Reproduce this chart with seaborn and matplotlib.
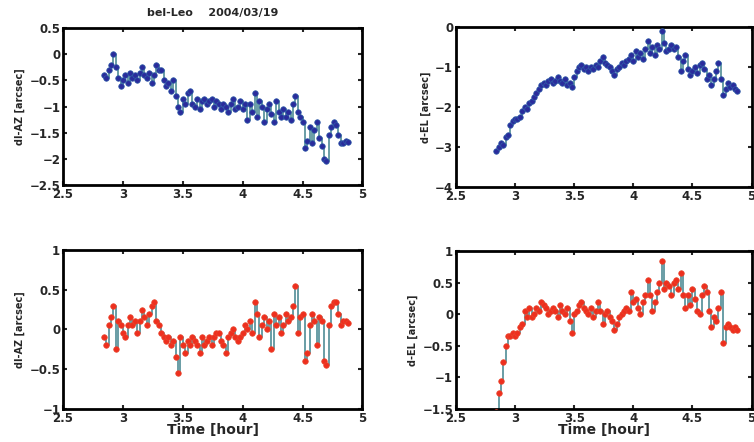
import matplotlib
matplotlib.use("Agg")
import matplotlib.pyplot as plt
import seaborn as sns
import pandas as pd

time_h = [2.84, 2.86, 2.88, 2.90, 2.92, 2.94, 2.96, 2.98, 3.00, 3.02,
          3.04, 3.06, 3.08, 3.10, 3.12, 3.14, 3.16, 3.18, 3.20, 3.22,
          3.24, 3.26, 3.28, 3.30, 3.32, 3.34, 3.36, 3.38, 3.40, 3.42,
          3.44, 3.46, 3.48, 3.50, 3.52, 3.54, 3.56, 3.58, 3.60, 3.62,
          3.64, 3.66, 3.68, 3.70, 3.72, 3.74, 3.76, 3.78, 3.80, 3.82,
          3.84, 3.86, 3.88, 3.90, 3.92, 3.94, 3.96, 3.98, 4.00, 4.02,
          4.04, 4.06, 4.08, 4.10, 4.12, 4.14, 4.16, 4.18, 4.20, 4.22,
          4.24, 4.26, 4.28, 4.30, 4.32, 4.34, 4.36, 4.38, 4.40, 4.42,
          4.44, 4.46, 4.48, 4.50, 4.52, 4.54, 4.56, 4.58, 4.60, 4.62,
          4.64, 4.66, 4.68, 4.70, 4.72, 4.74, 4.76, 4.78, 4.80, 4.82,
          4.84, 4.86, 4.88]

daz_before = [-0.40, -0.45, -0.30, -0.20, 0.00, -0.25, -0.45, -0.60, -0.50, -0.40,
              -0.55, -0.35, -0.45, -0.40, -0.50, -0.35, -0.25, -0.40, -0.45, -0.35,
              -0.55, -0.40, -0.20, -0.30, -0.30, -0.50, -0.60, -0.55, -0.70, -0.50,
              -0.80, -1.00, -1.10, -0.85, -0.95, -0.75, -0.70, -0.95, -1.00, -0.85,
              -1.05, -0.90, -0.85, -0.95, -0.90, -0.85, -1.00, -0.90, -0.95, -1.05,
              -0.95, -1.00, -1.10, -0.95, -0.85, -1.05, -1.00, -0.90, -1.05, -0.95,
              -1.25, -0.95, -1.10, -0.75, -1.20, -0.90, -1.00, -1.30, -1.05, -0.95,
              -1.15, -1.30, -0.90, -1.10, -1.20, -1.05, -1.20, -1.10, -1.25, -0.95,
              -0.80, -1.10, -1.20, -1.30, -1.80, -1.65, -1.40, -1.70, -1.45, -1.30,
              -1.60, -1.75, -2.00, -2.05, -1.55, -1.40, -1.30, -1.35, -1.55, -1.70,
              -1.70, -1.65, -1.68]

del_before = [-3.10, -3.00, -2.90, -2.95, -2.75, -2.70, -2.45, -2.35, -2.30, -2.30,
              -2.25, -2.10, -2.00, -2.05, -1.90, -1.85, -1.75, -1.65, -1.55, -1.45,
              -1.40, -1.45, -1.35, -1.30, -1.40, -1.35, -1.25, -1.35, -1.40, -1.30,
              -1.45, -1.40, -1.50, -1.25, -1.10, -1.00, -0.95, -1.05, -1.00, -1.10,
              -1.00, -1.05, -0.95, -1.00, -0.85, -0.75, -0.90, -0.95, -1.00, -1.10,
              -1.20, -1.05, -1.00, -0.90, -0.95, -0.85, -0.80, -0.70, -0.85, -0.60,
              -0.75, -0.65, -0.80, -0.55, -0.35, -0.65, -0.50, -0.70, -0.45, -0.55,
              -0.10, -0.40, -0.60, -0.55, -0.45, -0.55, -0.50, -0.75, -1.10, -0.85,
              -0.70, -1.05, -1.20, -1.10, -1.00, -1.15, -0.95, -0.90, -1.05, -1.30,
              -1.20, -1.45, -1.30, -1.10, -0.90, -1.30, -1.70, -1.55, -1.40, -1.50,
              -1.45, -1.55, -1.60]

daz_after = [-0.10, -0.20, 0.05, 0.15, 0.30, -0.25, 0.10, 0.05, -0.05, -0.10,
             0.05, 0.15, 0.05, 0.10, -0.05, 0.10, 0.25, 0.15, 0.05, 0.20,
             0.30, 0.35, 0.10, 0.05, -0.05, -0.10, -0.15, -0.10, -0.20, -0.15,
             -0.35, -0.55, -0.10, -0.20, -0.30, -0.15, -0.20, -0.10, -0.15, -0.20,
             -0.30, -0.10, -0.20, -0.15, -0.10, -0.20, -0.10, -0.05, -0.05, -0.15,
             -0.20, -0.30, -0.10, -0.05, 0.00, -0.10, -0.15, -0.10, -0.05, 0.05,
             0.00, 0.10, -0.05, 0.35, 0.20, -0.10, 0.05, 0.15, 0.00, 0.10,
             -0.25, 0.20, 0.05, 0.15, -0.05, 0.05, 0.20, 0.10, 0.15, 0.30,
             0.55, -0.05, 0.15, 0.20, -0.40, -0.30, 0.05, 0.20, 0.10, -0.20,
             0.15, 0.10, -0.40, -0.45, 0.05, 0.30, 0.35, 0.35, 0.20, 0.05,
             0.10, 0.10, 0.08]

del_after = [-1.55, -1.25, -1.05, -0.75, -0.50, -0.35, -0.35, -0.30, -0.35, -0.30,
             -0.20, -0.15, 0.05, -0.05, 0.10, -0.05, 0.00, 0.10, 0.05, 0.20,
             0.15, 0.10, 0.00, 0.05, 0.10, 0.05, -0.05, 0.15, 0.05, 0.00,
             0.10, -0.10, -0.30, 0.00, 0.05, 0.15, 0.20, 0.10, 0.05, 0.00,
             0.10, -0.05, 0.05, 0.20, 0.05, -0.15, 0.00, 0.05, -0.05, -0.10,
             -0.25, -0.15, -0.05, 0.00, 0.05, 0.10, 0.05, 0.35, 0.20, 0.25,
             0.10, 0.00, 0.20, 0.30, 0.55, 0.30, 0.05, 0.20, 0.35, 0.50,
             0.85, 0.40, 0.50, 0.45, 0.30, 0.50, 0.55, 0.40, 0.65, 0.30,
             0.10, 0.30, 0.15, 0.40, 0.25, 0.05, 0.00, 0.30, 0.45, 0.35,
             0.05, -0.20, -0.05, -0.10, 0.10, 0.35, -0.45, -0.20, -0.15, -0.20,
             -0.25, -0.20, -0.25]

x_ticks = [2.5, 3, 3.5, 4, 4.5, 5]
x_ticklabels = ["2.5", "3", "3.5", "4", "4.5", "5"]
title_text = "bel-Leo    2004/03/19"
xlabel_text = "Time [hour]"

sns.set_style("ticks")
plt.rcParams["font.family"] = ["DejaVu Sans"]
plt.rcParams["font.weight"] = "bold"

fig = plt.figure(figsize=(7.54, 4.42), dpi=100)

panels = [
    dict(y=daz_before, pos=[0.0836, 0.5814, 0.397, 0.355], ylim=(-2.5, 0.5),
         yticks=[-2.5, -2, -1.5, -1, -0.5, 0, 0.5], ylabel="dl-AZ [arcsec]",
         mc="#2a2c9c", ec="#2f5fa8"),
    dict(y=del_before, pos=[0.6048, 0.577, 0.392, 0.362], ylim=(-4, 0),
         yticks=[-4, -3, -2, -1, 0], ylabel="d-EL [arcsec]",
         mc="#2a2c9c", ec="#2f5fa8"),
    dict(y=daz_after, pos=[0.0836, 0.0747, 0.397, 0.36], ylim=(-1, 1),
         yticks=[-1, -0.5, 0, 0.5, 1], ylabel="dl-AZ [arcsec]",
         mc="#ee2f1e", ec="#e8452c"),
    dict(y=del_after, pos=[0.6048, 0.0747, 0.392, 0.357], ylim=(-1.5, 1),
         yticks=[-1.5, -1, -0.5, 0, 0.5, 1], ylabel="d-EL [arcsec]",
         mc="#ee2f1e", ec="#e8452c"),
]

def fmt(v):
    s = f"{v:g}"
    return s.replace("-", "\u2212")

axes = []
for i, p in enumerate(panels):
    ax = fig.add_axes(p["pos"])
    df = pd.DataFrame({"t": time_h, "v": p["y"]})
    sns.lineplot(data=df, x="t", y="v", ax=ax, color="#4f8c96", lw=1.2,
                 sort=False, estimator=None, drawstyle="steps-post")
    sns.scatterplot(data=df, x="t", y="v", ax=ax, color=p["mc"], s=16,
                    marker="o", edgecolor=p["ec"], linewidth=0.5, zorder=3)
    ax.set_xlim(2.5, 5)
    ax.set_ylim(*p["ylim"])
    ax.set_xticks(x_ticks)
    ax.set_xticklabels(x_ticklabels, fontsize=8.5, fontweight="bold")
    ax.set_yticks(p["yticks"])
    ax.set_yticklabels([fmt(v) for v in p["yticks"]], fontsize=8.5, fontweight="bold")
    ax.tick_params(direction="in", length=3, width=1.5, top=True, right=True, pad=2)
    for s in ax.spines.values():
        s.set_visible(True)
        s.set_linewidth(2)
        s.set_color("black")
    ax.set_ylabel(p["ylabel"], fontsize=7, fontweight="bold", labelpad=3)
    if i >= 2:
        ax.set_xlabel(xlabel_text, fontsize=10, fontweight="bold", labelpad=-1)
    else:
        ax.set_xlabel("")
    axes.append(ax)

axes[0].set_title(title_text, fontsize=8, fontweight="bold", pad=9)

fig.savefig("out.png", dpi=100, facecolor="white")
